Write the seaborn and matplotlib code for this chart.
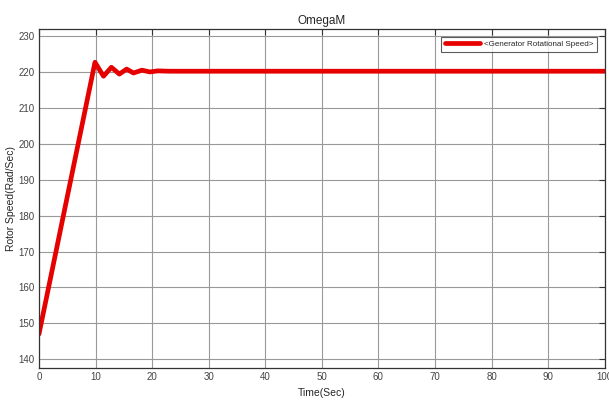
import matplotlib.pyplot as plt
import pandas as pd
import seaborn as sns

time_sec = [0, 9.9, 11.4, 12.8, 14.2, 15.5, 16.7, 18.2, 19.6, 21.0, 23.0, 30, 40, 50, 60, 70, 80, 90, 100]
speed = [147.0, 222.8, 218.9, 221.4, 219.5, 220.9, 219.8, 220.6, 220.1, 220.4, 220.3, 220.3, 220.3,
         220.3, 220.3, 220.3, 220.3, 220.3, 220.3]
x_ticks = list(range(0, 101, 10))
y_ticks = list(range(140, 231, 10))

df = pd.DataFrame({"Time(Sec)": time_sec, "speed": speed})

sns.set_style("white")
plt.rcParams["font.family"] = ["Liberation Sans", "DejaVu Sans"]

fig = plt.figure(figsize=(6.09, 4.01), dpi=100)
ax = fig.add_axes([0.064, 0.082, 0.929, 0.845])

sns.lineplot(data=df, x="Time(Sec)", y="speed", ax=ax, color="#e60000", linewidth=3.4,
             label="<Generator Rotational Speed>")

ax.set_xlim(0, 100)
ax.set_ylim(137.5, 232)
ax.set_xticks(x_ticks)
ax.set_yticks(y_ticks)
ax.grid(True, color="#999999", linewidth=0.8)
ax.tick_params(direction="in", top=True, right=True, length=4, labelsize=7, colors="#333333",
               labelcolor="#444444", pad=3)
for s in ax.spines.values():
    s.set_color("#333333")
    s.set_linewidth(0.9)

ax.set_title("OmegaM", fontsize=8.5, pad=4)
ax.set_xlabel("Time(Sec)", fontsize=7.5, labelpad=4)
ax.set_ylabel("Rotor Speed(Rad/Sec)", fontsize=7.5)
ax.yaxis.set_label_coords(-0.040, 0.5)

leg = ax.legend(loc="upper right", fontsize=5.8, handlelength=4.3, handletextpad=0.5, frameon=True,
                fancybox=False, borderaxespad=0.9, borderpad=0.5)
leg.get_frame().set_edgecolor("#333333")
leg.get_frame().set_linewidth(0.8)

fig.savefig("out.png", dpi=100)
